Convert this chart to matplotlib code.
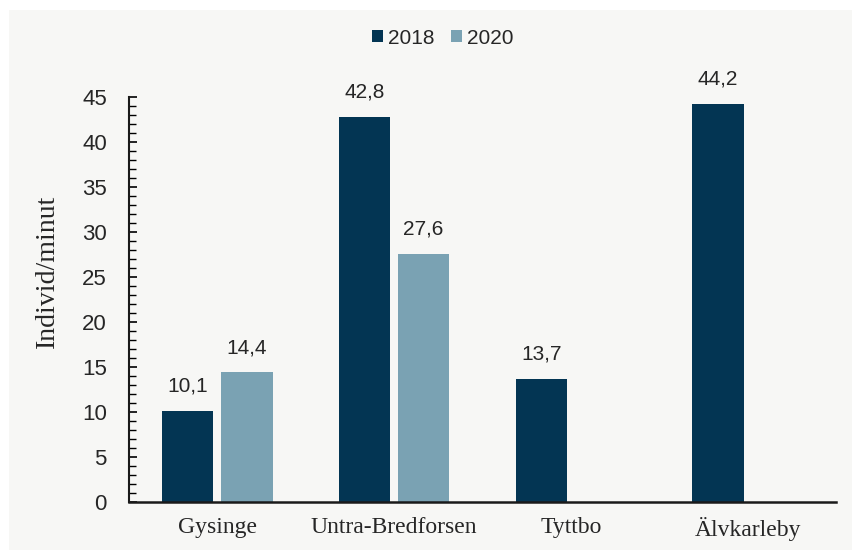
import matplotlib.pyplot as plt
import numpy as np
from matplotlib.patches import Rectangle
from matplotlib.ticker import MultipleLocator

# Individtäthet per lokal och år
lokaler = ['Gysinge', 'Untra-Bredforsen', 'Tyttbo', 'Älvkarleby']
ar = ['2018', '2020']
varden_2018 = [10.1, 42.8, 13.7, 44.2]
varden_2020 = [14.4, 27.6, None, None]

farg_2018 = '#033553'
farg_2020 = '#7aa2b3'
bakgrund = '#f7f7f5'
textfarg = '#262626'

fig = plt.figure(figsize=(8.53, 5.5), dpi=100)
fig.patch.set_facecolor('white')
fig.patches.append(Rectangle((9 / 853, 0), 1, 540 / 550, transform=fig.transFigure,
                             facecolor=bakgrund, edgecolor='none', zorder=-10))

ax = fig.add_axes([129 / 853, 1 - 502 / 550, (836 - 129) / 853, (502 - 97) / 550])
ax.set_facecolor('none')

x = np.arange(len(lokaler))
bredd = 0.29
forskj = 0.167

for serie, varden, farg, dx in [(ar[0], varden_2018, farg_2018, -forskj),
                                (ar[1], varden_2020, farg_2020, forskj)]:
    pos = [xi + dx for xi, v in zip(x, varden) if v is not None]
    hojd = [v for v in varden if v is not None]
    ax.bar(pos, hojd, width=bredd, color=farg, label=serie)
    for p, h in zip(pos, hojd):
        ax.text(p, h + 1.7, f'{h:.1f}'.replace('.', ','), ha='center', va='bottom',
                fontsize=15, color=textfarg, family='Liberation Sans')

ax.set_xlim(-0.5, 3.5)
ax.set_ylim(0, 45)
ax.yaxis.set_major_locator(MultipleLocator(5))
ax.yaxis.set_minor_locator(MultipleLocator(1))
ax.tick_params(axis='y', which='major', length=6, width=1.2, direction='in',
               labelsize=16, labelcolor=textfarg, pad=16)
ax.tick_params(axis='y', which='minor', length=5, width=1.0, direction='in')
ax.tick_params(axis='x', length=0, pad=11)
ax.set_xticks(x)
ax.set_xticklabels(lokaler, fontsize=17, family='Liberation Serif', color=textfarg)
for lbl in ax.get_yticklabels():
    lbl.set_family('Liberation Sans')

for s in ['top', 'right']:
    ax.spines[s].set_visible(False)
ax.spines['left'].set_linewidth(1.5)
ax.spines['bottom'].set_linewidth(1.8)
ax.spines['left'].set_color('#1a1a1a')
ax.spines['bottom'].set_color('#1a1a1a')

ax.set_ylabel('Individ/minut', fontsize=20, family='Liberation Serif', color=textfarg)
ax.yaxis.set_label_coords(-0.098, 0.57)

fig.legend(*ax.get_legend_handles_labels(), loc='center',
           bbox_to_anchor=(443 / 853, 1 - 38 / 550), ncol=2, frameon=False,
           prop={'family': 'Liberation Sans', 'size': 15}, handlelength=0.52,
           handleheight=0.52, handletextpad=0.25, columnspacing=0.8, labelcolor=textfarg)

fig.savefig('out.png', dpi=100, facecolor=fig.get_facecolor())
